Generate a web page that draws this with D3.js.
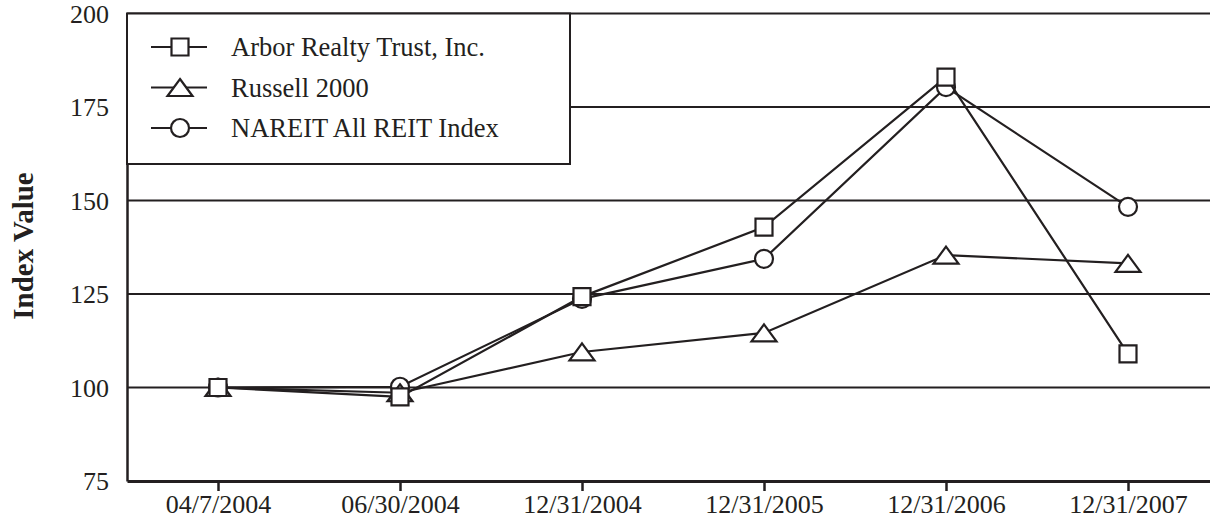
<!DOCTYPE html>
<html>
<head>
<meta charset="utf-8">
<script src="https://cdn.jsdelivr.net/npm/d3@7"></script>
<style>
body{margin:0;background:#fff;}
svg{display:block;font-family:"Liberation Serif","Times New Roman",serif;}
</style>
</head>
<body>
<script>
var dates = ['04/7/2004','06/30/2004','12/31/2004','12/31/2005','12/31/2006','12/31/2007'];
var arbor = [100, 97.5, 124.3, 142.9, 183, 109];
var russell = [100, 98.6, 109.5, 114.6, 135.4, 133.2];
var nareit = [100, 100.2, 123.7, 134.4, 180.3, 148.3];
var yTicks = [75, 100, 125, 150, 175, 200];
var seriesNames = ['Arbor Realty Trust, Inc.','Russell 2000','NAREIT All REIT Index'];

var width = 1210;
var height = 526;
var ink = '#231f20';
var serif = '"Liberation Serif","Times New Roman",serif';
var left = 127;

// flat triangle marker
var triFlat = {
	draw: function(ctx, size){
		var w = Math.sqrt(size);
		var h = w*0.68;
		ctx.moveTo(0,-h/2);
		ctx.lineTo(w/2,h/2);
		ctx.lineTo(-w/2,h/2);
		ctx.closePath();
	}
};
var series = [
	{name:seriesNames[2], values:nareit, type:d3.symbolCircle, size:Math.PI*81},
	{name:seriesNames[1], values:russell, type:triFlat, size:625},
	{name:seriesNames[0], values:arbor, type:d3.symbolSquare, size:289}
];

var xScale = d3.scalePoint()
				.domain(dates)
				.range([left, left+6*182])
				.padding(0.5);
var yScale = d3.scaleLinear()
				.domain([75,200])
				.range([481,13.5]);

var canvas = d3.select('body')
				.append('svg')
				.attr('width',width)
				.attr('height',height);

// grid
canvas.append('g')
	.selectAll('line')
	.data(yTicks.slice(1))
	.enter()
	.append('line')
	.attr('x1',left)
	.attr('x2',width)
	.attr('y1',(d)=>yScale(d))
	.attr('y2',(d)=>yScale(d))
	.style('stroke',ink)
	.style('stroke-width',2);

// axes
var yAxis = canvas.append('g')
				.attr('transform','translate('+left+',0)')
				.call(d3.axisLeft(yScale).tickValues(yTicks).tickSize(0).tickSizeOuter(0).tickPadding(18))
				.attr('font-family',serif);
yAxis.select('.domain').style('stroke',ink).style('stroke-width',2.5);
yAxis.selectAll('text').style('font-size','26px').style('fill',ink).attr('dy','0.33em');

var xAxis = canvas.append('g')
				.attr('transform','translate(0,481)')
				.call(d3.axisBottom(xScale).tickSize(10).tickSizeOuter(0).tickPadding(10))
				.attr('font-family',serif);
xAxis.select('.domain').style('stroke',ink).style('stroke-width',3);
xAxis.selectAll('.tick line').style('stroke',ink).style('stroke-width',2.5);
xAxis.selectAll('text').style('font-size','26px').style('fill',ink).attr('dy','0.71em').attr('y',14);

canvas.append('text')
	.attr('transform','translate(33,246) rotate(-90)')
	.attr('text-anchor','middle')
	.style('font-size','29px')
	.style('font-weight','bold')
	.style('fill',ink)
	.text('Index Value');

// lines + markers
var line = d3.line()
			.x((d,i)=>xScale(dates[i]))
			.y((d)=>yScale(d));
series.forEach(function(s){
	var g = canvas.append('g');
	g.append('path')
		.attr('d',line(s.values))
		.style('fill','none')
		.style('stroke',ink)
		.style('stroke-width',2.2);
	g.selectAll('path.mk')
		.data(s.values)
		.enter()
		.append('path')
		.attr('class','mk')
		.attr('transform',(d,i)=>'translate('+xScale(dates[i])+','+yScale(d)+')')
		.attr('d',d3.symbol().type(s.type).size(s.size))
		.style('fill','#fff')
		.style('stroke',ink)
		.style('stroke-width',2.2);
});

// legend
var legend = canvas.append('g');
legend.append('rect')
	.attr('x',left)
	.attr('y',13.5)
	.attr('width',443)
	.attr('height',150.5)
	.style('fill','#fff')
	.style('stroke',ink)
	.style('stroke-width',2);
var rows = legend.selectAll('g.row')
				.data(series.slice().reverse())
				.enter()
				.append('g')
				.attr('class','row')
				.attr('transform',(d,i)=>'translate(0,'+(47+i*40.5)+')');
rows.append('line')
	.attr('x1',151).attr('x2',207)
	.style('stroke',ink).style('stroke-width',2.2);
rows.append('path')
	.attr('transform','translate(180,0)')
	.attr('d',(d)=>d3.symbol().type(d.type).size(d.size)())
	.style('fill','#fff').style('stroke',ink).style('stroke-width',2.2);
rows.append('text')
	.attr('x',231)
	.attr('y',9)
	.style('font-size','26.5px')
	.style('fill',ink)
	.text((d)=>d.name);
</script>
</body>
</html>
